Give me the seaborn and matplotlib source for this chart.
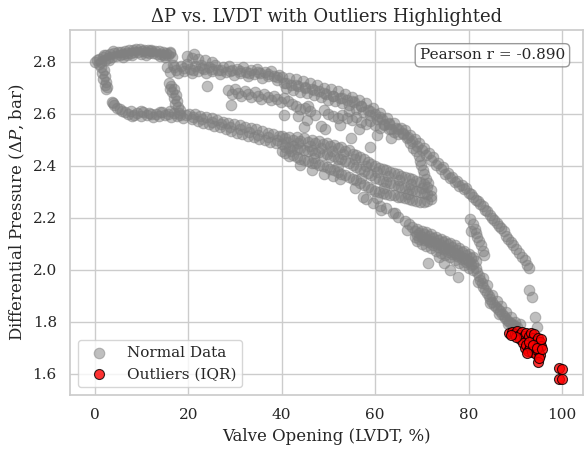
import matplotlib
matplotlib.use("Agg")
import matplotlib.pyplot as plt
import pandas as pd
import seaborn as sns

# ---- measured operating points (valve opening %, differential pressure bar) ----
top_arc = [(0.0,2.800),(0.4,2.806),(0.9,2.812),(1.3,2.798),(1.7,2.818),(2.1,2.808),(2.5,2.824),(2.9,2.814),
           (3.3,2.829),(3.7,2.817),(4.1,2.832),(4.5,2.822),(4.9,2.836),(5.3,2.826),(5.7,2.838),(6.1,2.829),
           (6.5,2.841),(6.9,2.832),(7.3,2.844),(7.7,2.834),(8.1,2.846),(8.5,2.836),(8.9,2.848),(9.3,2.838),
           (9.7,2.850),(10.1,2.840),(10.5,2.846),(10.9,2.836),(11.3,2.844),(11.7,2.834),(12.1,2.842),(12.5,2.832),
           (12.9,2.843),(13.3,2.831),(13.7,2.840),(14.1,2.829),(14.5,2.838),(14.9,2.826),(15.3,2.835),(15.7,2.824),
           (16.1,2.832),(16.5,2.820),(2.0,2.826),(4.0,2.840),(6.0,2.820),(8.0,2.826),(10.0,2.828),(12.0,2.846),
           (14.0,2.822),(16.0,2.838),(3.0,2.808),(7.0,2.825),(11.0,2.824),(15.0,2.817)]

left_drop = [(0.8,2.792),(1.4,2.781),(1.9,2.768),(1.6,2.756),(2.2,2.745),(1.8,2.733),(2.5,2.722),(2.1,2.712),
             (2.7,2.703),(2.4,2.694),(3.6,2.645),(4.1,2.633),(4.7,2.624),(5.3,2.617),(5.9,2.611),(3.9,2.640)]

connector = [(15.8,2.718),(16.4,2.706),(17.0,2.695),(16.6,2.684),(17.3,2.672),(16.9,2.660),(17.6,2.648),
             (17.1,2.636),(17.8,2.625),(16.2,2.694),(18.2,2.615)]

lower_band = [(6.5,2.606),(7.2,2.598),(7.8,2.611),(8.5,2.594),(9.1,2.604),(9.8,2.590),(10.4,2.608),(11.1,2.596),
              (11.7,2.602),(12.4,2.588),(13.0,2.600),(13.7,2.592),(14.3,2.606),(15.0,2.594),(15.6,2.598),(16.3,2.588),
              (16.9,2.602),(17.6,2.590),(18.2,2.596),(18.9,2.584),(19.5,2.594),(8.0,2.590),(10.0,2.612),(12.0,2.598),
              (14.0,2.606),(16.0,2.610),(18.0,2.604),
              (20.2,2.600),(20.8,2.580),(21.4,2.598),(22.0,2.572),(22.6,2.592),(23.2,2.566),(23.8,2.588),(24.4,2.560),
              (25.0,2.582),(25.6,2.552),(26.2,2.575),(26.8,2.548),(27.4,2.570),(28.0,2.540),(28.6,2.566),(29.2,2.535),
              (29.8,2.560),(30.4,2.528),(31.0,2.556),(31.6,2.522),(32.2,2.550),(32.8,2.516),(33.4,2.545),(34.0,2.510),
              (34.6,2.540),(35.2,2.504),(35.8,2.534),(36.4,2.498),(37.0,2.528),(37.6,2.490),(38.2,2.522),(38.8,2.486),
              (39.4,2.516),(21.0,2.586),(23.0,2.578),(25.0,2.568),(27.0,2.560),(29.0,2.550),(31.0,2.540),(33.0,2.530),
              (35.0,2.520),(37.0,2.510),(39.0,2.500)]

dense_core = [(40.0,2.515),(40.0,2.482),(40.0,2.455),(40.8,2.506),(40.8,2.474),(40.8,2.448),(41.6,2.512),(41.6,2.470),
              (41.6,2.438),(42.4,2.500),(42.4,2.478),(42.4,2.442),(43.2,2.510),(43.2,2.466),(43.2,2.432),(44.0,2.496),
              (44.0,2.470),(44.0,2.428),(44.8,2.505),(44.8,2.460),(44.8,2.424),(45.6,2.492),(45.6,2.455),(45.6,2.418),
              (46.4,2.500),(46.4,2.462),(46.4,2.412),(47.2,2.488),(47.2,2.448),(47.2,2.410),(48.0,2.495),(48.0,2.452),
              (48.0,2.402),(48.8,2.482),(48.8,2.440),(48.8,2.400),(49.6,2.488),(49.6,2.445),(49.6,2.395),(50.4,2.476),
              (50.4,2.432),(50.4,2.388),(51.2,2.480),(51.2,2.436),(51.2,2.384),(52.0,2.468),(52.0,2.425),(52.0,2.376),
              (52.8,2.472),(52.8,2.428),(52.8,2.368),(53.6,2.456),(53.6,2.418),(53.6,2.364),(54.4,2.460),(54.4,2.410),
              (54.4,2.356),(55.2,2.446),(55.2,2.404),(55.2,2.350),(56.0,2.440),(56.0,2.396),(56.0,2.344),(56.8,2.432),
              (56.8,2.388),(56.8,2.334),(57.6,2.426),(57.6,2.380),(57.6,2.326),(58.4,2.414),(58.4,2.372),(58.4,2.318),
              (59.2,2.408),(59.2,2.364),(59.2,2.312),(60.0,2.398),(60.0,2.352),(60.0,2.304),(60.8,2.392),(60.8,2.348),
              (60.8,2.300),(61.6,2.386),(61.6,2.340),(61.6,2.296),(62.4,2.384),(62.4,2.338),(62.4,2.292),(63.2,2.376),
              (63.2,2.332),(63.2,2.288),(64.0,2.372),(64.0,2.328),(64.0,2.286),(64.8,2.368),(64.8,2.324),(64.8,2.282),
              (65.6,2.362),(65.6,2.318),(65.6,2.280),(66.4,2.358),(66.4,2.314),(66.4,2.276),(67.2,2.352),(67.2,2.310),
              (67.2,2.272),(68.0,2.348),(68.0,2.306),(68.0,2.268),(68.8,2.342),(68.8,2.302),(68.8,2.266),(69.6,2.338),
              (69.6,2.298),(69.6,2.262),(70.4,2.330),(70.4,2.294),(70.4,2.262),(71.2,2.318),(71.2,2.290),(71.2,2.266),
              (72.0,2.306),(72.0,2.284),(72.0,2.272),
              (41.2,2.492),(43.6,2.488),(46.0,2.478),(48.4,2.470),(50.8,2.458),(53.2,2.444),(55.6,2.425),(58.0,2.400),
              (60.4,2.375),(62.8,2.360),(65.2,2.345),(67.6,2.330),(70.0,2.316),(42.0,2.455),(47.0,2.430),(52.0,2.400),
              (57.0,2.355),(62.0,2.315),(67.0,2.290),
              (46.5,2.385),(49.0,2.370),(52.5,2.350),(55.7,2.314),(57.4,2.282),(51.0,2.362),(60.5,2.275),(44.0,2.405)]

middle_band = [(28.6,2.690),(29.3,2.676),(30.0,2.694),(30.7,2.680),(31.4,2.670),(32.1,2.688),(32.8,2.676),(33.5,2.666),
               (34.2,2.682),(34.9,2.668),(35.6,2.658),(36.3,2.676),(37.0,2.664),(37.7,2.652),(38.4,2.670),(39.1,2.656),
               (39.8,2.646),(40.6,2.662),(41.4,2.648),(42.2,2.638),(43.0,2.630),(44.0,2.618),(45.0,2.624),(46.0,2.610),
               (43.5,2.590),(45.5,2.575),(47.2,2.595),(48.5,2.552),(49.3,2.540),(44.8,2.548),(50.0,2.600),(51.0,2.592),
               (52.0,2.585),(53.0,2.594),(54.0,2.582),(55.0,2.575),(56.0,2.586),(57.0,2.570),(58.0,2.562),(59.0,2.574),
               (60.0,2.556),(61.0,2.545),(62.0,2.558),(63.0,2.540),(64.0,2.530),(65.0,2.542),(66.0,2.522),(66.8,2.505),
               (67.5,2.488),(68.2,2.470),(68.8,2.455),(69.3,2.438),(69.6,2.420),(69.9,2.402),(70.2,2.385),(70.5,2.368),
               (70.9,2.350),(71.3,2.335),(52.5,2.555),(56.5,2.540),(60.5,2.520),(63.5,2.505),(49.0,2.615),(54.5,2.610),
               (24.1,2.705),(29.1,2.635),(40.4,2.596),(45.7,2.628),(54.9,2.507),(58.9,2.474)]

upper_band = [(15.5,2.780),(16.1,2.762),(16.7,2.788),(17.3,2.770),(17.9,2.758),(18.5,2.784),(19.1,2.766),(19.7,2.790),
              (20.3,2.772),(20.9,2.756),(21.5,2.782),(22.1,2.766),(22.7,2.788),(23.3,2.772),(23.9,2.758),(24.5,2.780),
              (25.1,2.764),(25.7,2.786),(26.3,2.770),(26.9,2.754),(27.5,2.778),(28.1,2.762),(28.7,2.784),(29.3,2.768),
              (29.9,2.750),(30.5,2.774),(31.1,2.758),(31.7,2.778),(32.3,2.762),(32.9,2.744),(33.5,2.768),(34.1,2.752),
              (34.7,2.772),(35.3,2.756),(35.9,2.738),(36.5,2.760),(37.1,2.744),(37.7,2.764),(38.3,2.746),(38.9,2.728),
              (39.5,2.750),
              (17.0,2.778),(19.0,2.776),(21.0,2.770),(23.0,2.776),(25.0,2.774),(27.0,2.770),(29.0,2.766),(31.0,2.766),
              (33.0,2.758),(35.0,2.762),(37.0,2.754),(39.0,2.740),
              (19.8,2.822),(20.8,2.816),(22.0,2.812),(23.5,2.806),(25.0,2.800),(21.2,2.830),
              (40.0,2.742),(40.5,2.718),(41.0,2.698),(41.5,2.736),(42.0,2.712),(42.5,2.692),(43.0,2.732),(43.5,2.706),
              (44.0,2.684),(44.5,2.726),(45.0,2.700),(45.5,2.678),(46.0,2.718),(46.5,2.694),(47.0,2.672),(47.5,2.710),
              (48.0,2.686),(48.5,2.664),(49.0,2.700),(49.5,2.676),(50.0,2.654),(50.5,2.694),(51.0,2.670),(51.5,2.648),
              (52.0,2.686),(52.5,2.662),(53.0,2.640),(53.5,2.676),(54.0,2.654),(54.5,2.632),(55.0,2.666),(55.5,2.644),
              (56.0,2.620),(56.5,2.654),(57.0,2.630),(57.5,2.606),(58.0,2.640),(58.5,2.616),(59.0,2.594),(59.5,2.622),
              (60.0,2.598),(60.5,2.578),(61.0,2.602),(61.5,2.580),(62.0,2.560),(62.5,2.584),(63.0,2.562),(63.5,2.542),
              (64.0,2.566),(64.5,2.544),(65.0,2.524),
              (41.0,2.718),(43.0,2.710),(45.0,2.702),(47.0,2.690),(49.0,2.680),(51.0,2.668),(53.0,2.660),(55.0,2.648),
              (57.0,2.628),(59.0,2.610),(61.0,2.588),(63.0,2.565),
              (65.5,2.546),(66.0,2.528),(66.5,2.536),(67.0,2.512),(67.5,2.520),(68.0,2.496),(68.5,2.504),(69.0,2.478),
              (69.5,2.488),(70.0,2.460),(70.5,2.470),(71.0,2.442),(71.5,2.450),(72.0,2.422),(72.5,2.432),(73.0,2.404),
              (73.5,2.412),(74.0,2.386),(74.5,2.394),(75.0,2.368),(75.5,2.374),(76.0,2.352),(76.5,2.358),(77.0,2.338),
              (77.5,2.342),(78.0,2.324),(78.5,2.328),(79.0,2.310),(79.5,2.316),
              (80.0,2.296),(80.5,2.290),(81.0,2.282),(81.5,2.270),(82.0,2.264),(82.5,2.252),(83.0,2.246),(83.5,2.232),
              (84.0,2.226),(84.5,2.212),(85.0,2.200),(85.5,2.190),(86.0,2.180),(86.5,2.170),(87.0,2.160),(87.5,2.148),
              (88.0,2.132),(88.5,2.118),(89.0,2.108),(89.6,2.094),(90.2,2.080),(90.8,2.066),(91.4,2.050),(92.0,2.036),
              (92.6,2.020),(93.0,2.006),(92.9,1.923),(93.6,1.897),(94.3,1.820),(94.7,1.782)]

side_branch = [(80.4,2.195),(80.9,2.176),(81.3,2.158),(81.7,2.142),(80.6,2.150),(81.9,2.128),(82.2,2.110),
               (82.6,2.094),(83.0,2.074),(83.4,2.058)]

lower_tail = [(58.0,2.272),(59.5,2.258),(61.0,2.245),(62.3,2.236),(63.8,2.220),(65.0,2.205),(66.3,2.188),(67.2,2.176),
              (68.0,2.165),(61.3,2.230),(64.2,2.218),(66.8,2.154),
              (68.5,2.150),(68.5,2.128),(69.0,2.156),(69.0,2.134),(69.0,2.112),(69.5,2.142),(69.5,2.120),(70.0,2.150),
              (70.0,2.126),(70.0,2.100),(70.5,2.138),(70.5,2.114),(71.0,2.144),(71.0,2.118),(71.0,2.092),(71.5,2.130),
              (71.5,2.106),(72.0,2.136),(72.0,2.110),(72.0,2.084),(72.5,2.124),(72.5,2.096),(73.0,2.128),(73.0,2.102),
              (73.0,2.074),(73.5,2.116),(73.5,2.088),(74.0,2.120),(74.0,2.094),(74.0,2.066),(74.5,2.106),(74.5,2.080),
              (75.0,2.112),(75.0,2.084),(75.0,2.056),(75.5,2.098),(75.5,2.070),(76.0,2.102),(76.0,2.076),(76.0,2.048),
              (76.5,2.088),(76.5,2.062),(77.0,2.094),(77.0,2.066),(77.0,2.038),(77.5,2.078),(77.5,2.052),(78.0,2.084),
              (78.0,2.056),(78.0,2.028),(78.5,2.068),(78.5,2.042),(79.0,2.072),(79.0,2.046),(79.0,2.018),(79.5,2.058),
              (79.5,2.032),(80.0,2.060),(80.0,2.034),(80.0,2.008),(80.5,2.046),(80.5,2.020),(81.0,2.048),(81.0,2.022),
              (81.0,1.998),(81.5,2.034),(81.5,2.008),
              (71.3,2.026),(74.8,2.026),(77.7,1.974),(73.7,2.050),(76.0,2.000),
              (81.8,1.990),(82.2,1.975),(82.5,1.960),(82.9,1.948),(83.2,1.935),(83.6,1.922),(84.0,1.912),(84.3,1.898),
              (84.7,1.888),(85.1,1.876),(85.5,1.866),(85.9,1.856),(86.3,1.848),(86.7,1.840),(87.1,1.832),(87.5,1.824),
              (87.9,1.816),(88.3,1.808),(88.7,1.800),(89.1,1.794),(89.5,1.788),(89.9,1.784),(90.3,1.780),(82.0,1.952),
              (83.0,1.968),(84.0,1.940),(85.0,1.905),(86.0,1.880),(87.0,1.862),(88.0,1.838),(89.0,1.818),(90.0,1.800),
              (91.0,1.790),(84.5,1.872),(86.5,1.832),(88.5,1.790)]

# points flagged by the IQR rule
outliers = [(88.6,1.758),(89.3,1.762),(89.9,1.754),(90.4,1.764),(90.9,1.748),(91.4,1.762),(91.0,1.735),(91.8,1.744),
            (92.2,1.756),(92.5,1.730),(92.9,1.745),(93.3,1.758),(93.7,1.740),(94.1,1.752),(94.4,1.728),(94.8,1.740),
            (95.2,1.722),(95.5,1.708),(91.6,1.718),(92.0,1.700),(92.4,1.712),(92.8,1.690),(93.2,1.702),(93.6,1.684),
            (94.0,1.694),(94.4,1.676),(94.8,1.688),(95.2,1.672),(93.0,1.722),(93.8,1.712),(94.6,1.700),(92.6,1.680),
            (94.9,1.645),(95.0,1.660),(90.2,1.742),(89.0,1.748),(95.8,1.695),(95.6,1.735),(99.4,1.622),(100.0,1.620),
            (99.3,1.580),(99.9,1.582)]

pearson_label = "Pearson r = -0.890"

normal_pts = (top_arc + left_drop + connector + lower_band + dense_core + middle_band
              + upper_band + side_branch + lower_tail)
normal = pd.DataFrame(normal_pts, columns=["lvdt", "dp"])
outl = pd.DataFrame(outliers, columns=["lvdt", "dp"])

sns.set_theme(style="whitegrid")
plt.rcParams["font.family"] = ["DejaVu Serif"]
plt.rcParams["mathtext.fontset"] = "dejavuserif"

fig, ax = plt.subplots(figsize=(5.84, 4.53), dpi=100)
fig.subplots_adjust(left=70 / 584, right=583 / 584, bottom=58 / 453, top=423 / 453)

sns.scatterplot(data=normal, x="lvdt", y="dp", color="gray", alpha=0.5, s=58,
                edgecolor="gray", linewidth=0.8, label="Normal Data", ax=ax)
sns.scatterplot(data=outl, x="lvdt", y="dp", color="red", alpha=0.8, s=52,
                edgecolor="black", linewidth=0.8, label="Outliers (IQR)", ax=ax)

ax.set_xlim(-5.3, 104.5)
ax.set_ylim(1.519, 2.922)
ax.set_title("ΔP vs. LVDT with Outliers Highlighted", fontsize=13)
ax.set_xlabel("Valve Opening (LVDT, %)", fontsize=12)
ax.set_ylabel(r"Differential Pressure ($\Delta P$, bar)", fontsize=12)
ax.tick_params(labelsize=11)

ax.text(0.965, 0.95, pearson_label, transform=ax.transAxes, ha="right", va="top", fontsize=11,
        bbox=dict(boxstyle="round,pad=0.3", facecolor="white", edgecolor="gray", alpha=0.8))
ax.legend(loc="lower left", fontsize=11)

fig.savefig("out.png", dpi=100)
